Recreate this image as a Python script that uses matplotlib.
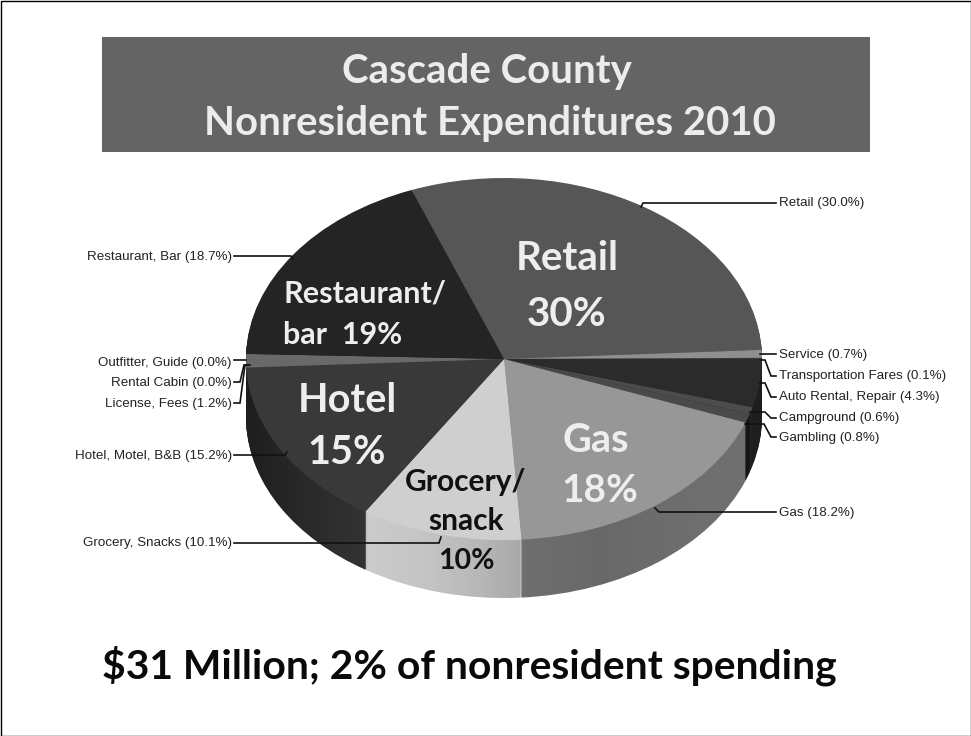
import numpy as np
import matplotlib
matplotlib.use("Agg")
import matplotlib.pyplot as plt
from matplotlib.patches import Rectangle, PathPatch
from matplotlib.path import Path

categories = ["Retail", "Service", "Transportation Fares", "Auto Rental, Repair", "Campground",
              "Gambling", "Gas", "Grocery, Snacks", "Hotel, Motel, B&B", "License, Fees",
              "Rental Cabin", "Outfitter, Guide", "Restaurant, Bar"]
values = [30.0, 0.7, 0.1, 4.3, 0.6, 0.8, 18.2, 10.1, 15.2, 1.2, 0.0, 0.0, 18.7]
top_colors = ["#565656", "#8f8f8f", "#3a3a3a", "#2b2b2b", "#4c4c4c", "#4a4a4a", "#979797",
              "#cfcfcf", "#393939", "#696969", "#555555", "#555555", "#242424"]
side_colors = ["#444444", "#777777", "#333333", "#1e1e1e", "#222222", "#161616", "#6f6f6f",
               "#cbcbcb", "#363636", "#444444", "#333333", "#333333", "#1c1c1c"]

W, H = 971, 736
cx, cy, rx, ry, depth = 504, 359, 258, 181, 58

fig = plt.figure(figsize=(W / 100, H / 100), dpi=100, facecolor="white")
ax = fig.add_axes([0, 0, 1, 1])
for i in range(depth, 0, -1):
    ax.pie(values, startangle=111, counterclock=False, colors=side_colors,
           center=(0, -i / ry), radius=1, wedgeprops=dict(linewidth=0), normalize=True)
ax.set_aspect("auto")
ax.set_xlim((0 - cx) / rx, (W - cx) / rx)
ax.set_ylim((cy - H) / ry, cy / ry)
ax.axis("off")

# horizontal shading of the pie's rim
t = np.linspace(np.pi, 2 * np.pi, 200)
rim = np.vstack([np.c_[np.cos(t), np.sin(t) - depth / ry],
                 np.c_[np.cos(t[::-1]), np.sin(t[::-1])]])
clip = PathPatch(Path(rim), transform=ax.transData, fc="none", ec="none")
ax.add_patch(clip)
shade_x = [246, 300, 366, 368, 420, 480, 520, 521, 600, 700, 762]
shade_a = [0.45, 0.25, 0.05, 0.0, 0.03, 0.10, 0.17, 0.0, 0.06, 0.0, 0.0]
xs_px = np.arange(246, 763)
alpha = np.interp(xs_px, shade_x, shade_a)
img = np.zeros((1, xs_px.size, 4))
img[0, :, 3] = alpha
ax.imshow(img, extent=((246 - cx) / rx, (762 - cx) / rx, -1.4, 1.0), aspect="auto",
          clip_path=clip, zorder=3)
ax.set_xlim((0 - cx) / rx, (W - cx) / rx)
ax.set_ylim((cy - H) / ry, cy / ry)

ax.pie(values, startangle=111, counterclock=False, colors=top_colors,
       center=(0, 0), radius=1, wedgeprops=dict(linewidth=0, zorder=4), normalize=True)
ax.set_aspect("auto")
ax.set_xlim((0 - cx) / rx, (W - cx) / rx)
ax.set_ylim((cy - H) / ry, cy / ry)
ax.axis("off")

ov = fig.add_axes([0, 0, 1, 1], facecolor="none")
ov.set_xlim(0, W)
ov.set_ylim(H, 0)
ov.axis("off")

ov.add_patch(Rectangle((0.5, 0.5), W - 1, H - 1, fill=False, ec="black", lw=1))
ov.add_patch(Rectangle((102, 37), 768, 115, fc="#646464", ec="none"))

cal = ["Lato", "DejaVu Sans"]
title_c = "#ececec"
ov.text(487, 71, "Cascade County", family=cal, weight="bold", size=28.9, color=title_c, ha="center", va="center")
ov.text(490, 124, "Nonresident Expenditures 2010", family=cal, weight="bold", size=28.9, color=title_c, ha="center", va="center")

big = [("Retail", 567, 259, 29, "#eeeeee"), ("30%", 567, 314, 29, "#eeeeee"),
       ("Restaurant/", 365, 294, 22, "#eeeeee"), ("bar  19%", 343, 335, 22, "#eeeeee"),
       ("Hotel", 347, 400, 28.5, "#eeeeee"), ("15%", 347, 453, 28.5, "#eeeeee"),
       ("Gas", 596, 441, 28.5, "#eeeeee"), ("18%", 600, 491, 28, "#eeeeee"),
       ("Grocery/", 466, 482, 21.5, "#111111"), ("snack", 466, 521, 21.5, "#111111"),
       ("10%", 466, 561, 20.5, "#111111")]
for s, x, y, fs, c in big:
    ov.text(x, y, s, family=cal, weight="bold", size=fs, color=c, ha="center", va="center")

ov.text(469, 666, "$31 Million; 2% of nonresident spending", family=cal, weight="bold", size=29.4,
        color="#0a0a0a", ha="center", va="center")

small = ["Liberation Sans"]
right_lab = [("Retail (30.0%)", 203), ("Service (0.7%)", 355), ("Transportation Fares (0.1%)", 376),
             ("Auto Rental, Repair (4.3%)", 397), ("Campground (0.6%)", 418), ("Gambling (0.8%)", 438),
             ("Gas (18.2%)", 513)]
left_lab = [("Restaurant, Bar (18.7%)", 257), ("Outfitter, Guide (0.0%)", 363), ("Rental Cabin (0.0%)", 383),
            ("License, Fees (1.2%)", 404), ("Hotel, Motel, B&B (15.2%)", 456), ("Grocery, Snacks (10.1%)", 543)]
for s, y in right_lab:
    ov.text(779, y, s, family=small, size=9.6, color="#222222", ha="left", va="center")
for s, y in left_lab:
    ov.text(232, y, s, family=small, size=9.6, color="#222222", ha="right", va="center")

leaders = [
    [(776, 203), (643, 203), (641, 207)],
    [(776, 354), (760, 354)],
    [(776, 376), (771, 376), (765, 360), (760, 360)],
    [(776, 397), (771, 397), (765, 383), (760, 383)],
    [(776, 418), (771, 418), (765, 412), (750, 412)],
    [(776, 437), (771, 437), (764, 424), (745, 424)],
    [(776, 512), (659, 512), (655, 508)],
    [(234, 256), (291, 256), (293, 259)],
    [(234, 360), (246, 360)],
    [(234, 382), (240, 382), (244, 365), (248, 365)],
    [(234, 403), (240, 403), (245, 365), (250, 365)],
    [(234, 455), (285, 455), (287, 452)],
    [(234, 543), (439, 543), (441, 537)],
]
for pts in leaders:
    xs, ys = zip(*pts)
    ov.plot(xs, ys, color="#111111", lw=1.2, solid_joinstyle="miter")

fig.savefig("out.png", dpi=100)
